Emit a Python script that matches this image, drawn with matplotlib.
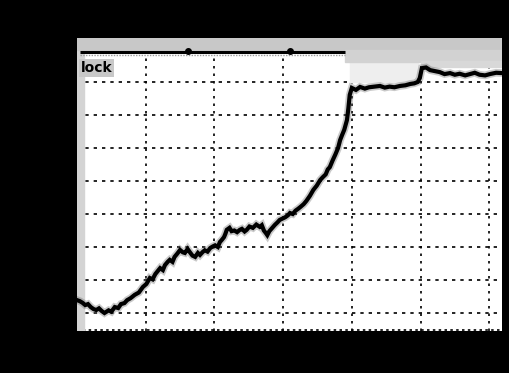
import matplotlib
matplotlib.use("Agg")
import matplotlib.pyplot as plt
from matplotlib.patches import Rectangle

# Scope trace, in screen divisions (time, level)
trace_t = [0.00, 0.04, 0.08, 0.12, 0.16, 0.20, 0.24, 0.28, 0.32, 0.36, 0.40, 0.46, 0.50,
           0.55, 0.60, 0.64, 0.69, 0.73, 0.78, 0.84, 0.90, 0.96, 1.01, 1.06, 1.10, 1.14,
           1.18, 1.21, 1.25, 1.28, 1.32, 1.35, 1.39, 1.42, 1.46, 1.50, 1.54, 1.57, 1.61,
           1.64, 1.68, 1.72, 1.76, 1.79, 1.83, 1.86, 1.90, 1.94, 1.98, 2.01, 2.05, 2.08,
           2.11, 2.14, 2.16, 2.18, 2.22, 2.25, 2.29, 2.33, 2.37, 2.40, 2.44, 2.47, 2.51,
           2.56, 2.61, 2.66, 2.69, 2.72, 2.75, 2.77, 2.80, 2.83, 2.86, 2.88, 2.92, 2.95,
           2.99, 3.03, 3.07, 3.10, 3.14, 3.18, 3.22, 3.25, 3.30, 3.34, 3.39, 3.44, 3.49,
           3.54, 3.58, 3.62, 3.65, 3.68, 3.72, 3.76, 3.80, 3.83, 3.86, 3.89, 3.91, 3.93,
           3.95, 3.97, 4.00, 4.06, 4.12, 4.19, 4.25, 4.33, 4.41, 4.48, 4.55, 4.62, 4.70,
           4.78, 4.85, 4.91, 4.96, 4.99, 5.02, 5.08, 5.14, 5.21, 5.28, 5.35, 5.43, 5.50,
           5.57, 5.65, 5.72, 5.79, 5.86, 5.94, 6.01, 6.10, 6.19]
trace_v = [0.39, 0.36, 0.31, 0.24, 0.27, 0.18, 0.12, 0.09, 0.14, 0.06, 0.00, 0.08, 0.04,
           0.18, 0.15, 0.27, 0.30, 0.39, 0.45, 0.55, 0.62, 0.79, 0.88, 1.06, 1.02, 1.18,
           1.28, 1.36, 1.30, 1.45, 1.55, 1.61, 1.55, 1.70, 1.80, 1.91, 1.84, 1.82, 1.94,
           1.85, 1.74, 1.70, 1.82, 1.76, 1.85, 1.90, 1.86, 1.97, 2.02, 2.05, 2.00, 2.15,
           2.22, 2.30, 2.40, 2.52, 2.58, 2.48, 2.50, 2.45, 2.52, 2.55, 2.47, 2.52, 2.62,
           2.58, 2.68, 2.61, 2.66, 2.50, 2.42, 2.36, 2.48, 2.55, 2.62, 2.67, 2.75, 2.82,
           2.86, 2.90, 2.96, 3.03, 3.00, 3.10, 3.16, 3.21, 3.30, 3.40, 3.55, 3.73, 3.86,
           4.03, 4.12, 4.20, 4.35, 4.42, 4.62, 4.80, 5.00, 5.24, 5.40, 5.55, 5.70, 5.85,
           6.20, 6.61, 6.82, 6.76, 6.85, 6.80, 6.84, 6.86, 6.88, 6.83, 6.86, 6.84, 6.88,
           6.90, 6.94, 6.96, 7.00, 7.12, 7.42, 7.44, 7.36, 7.33, 7.30, 7.24, 7.27, 7.22,
           7.25, 7.20, 7.24, 7.28, 7.22, 7.20, 7.24, 7.28, 7.27]

label_text = "lock"
trigger_marks = [1.61, 3.10]

W, H = 510, 373
fig = plt.figure(figsize=(W / 100, H / 100), dpi=100, facecolor="black")

# screen area in pixels: x 77..502, y 38..331
left, right, top, bottom = 77, 502, 38, 331
ax = fig.add_axes([left / W, 1 - bottom / H, (right - left) / W, (bottom - top) / H])
ax.set_facecolor("white")

xdiv, ydiv = 68.7, 33.0
x0, x1 = 0.0, (right - left) / xdiv
y0, y1 = -(bottom - 313) / ydiv, (313 - top) / ydiv
ax.set_xlim(x0, x1)
ax.set_ylim(y0, y1)
for s in ax.spines.values():
    s.set_visible(False)
ax.set_xticks([])
ax.set_yticks([])

# dotted graticule
for gx in range(0, 7):
    ax.axvline(gx, color="black", lw=1.2, ls=(0, (1.5, 3)), zorder=1)
for gy in range(0, 8):
    ax.axhline(gy, color="black", lw=1.2, ls=(0, (2, 3)), zorder=1)
ax.axhline(y0 + 0.03, color="black", lw=1.2, ls=(0, (1.5, 2)), zorder=1)

# status bands at the top of the screen
ax.add_patch(Rectangle((x0, 7.97), x1 - x0, y1 - 7.97, color="#c8c8c8", zorder=2))
ax.add_patch(Rectangle((3.90, 7.62), x1 - 3.90, 0.36, color="#d2d2d2", zorder=2))
ax.add_patch(Rectangle((5.0, 7.45), x1 - 5.0, 0.2, color="#d8d8d8", zorder=2))
ax.add_patch(Rectangle((3.97, 7.0), 1.0, 0.65, color="#eeeeee", zorder=1.5))
ax.add_patch(Rectangle((x0, y0), 0.1, y1 - y0, color="#d4d4d4", zorder=1.5))
ax.plot([0.04, 3.90], [7.91, 7.91], color="black", lw=2.2, solid_capstyle="butt", zorder=3)
ax.plot([0.04, 3.90], [7.82, 7.82], color="#9a9a9a", lw=1.0, ls=(0, (1, 1)), zorder=3)
ax.plot(trigger_marks, [7.93, 7.93], "o", color="black", ms=4, zorder=4)

ax.text(0.05, 7.42, label_text, fontsize=10, fontweight="bold", color="black",
        ha="left", va="center", zorder=4,
        bbox=dict(boxstyle="square,pad=0.12", fc="#c8c8c8", ec="none"))

# trace
ax.plot(trace_t, trace_v, color="#666666", lw=5.5, alpha=0.35, solid_joinstyle="miter", zorder=5)
ax.plot(trace_t, trace_v, color="black", lw=3.0, solid_joinstyle="miter", zorder=6)

fig.savefig("out.png", dpi=100, facecolor="black")
